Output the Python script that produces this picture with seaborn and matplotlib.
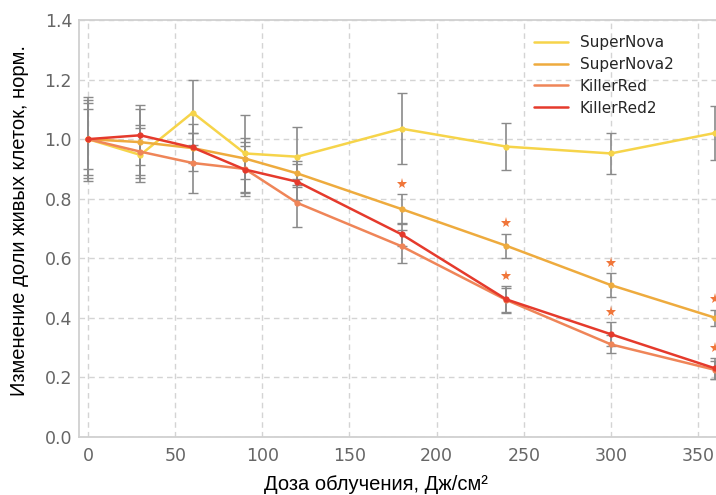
import numpy as np
import pandas as pd
import matplotlib
matplotlib.use("Agg")
import matplotlib.pyplot as plt
from matplotlib.lines import Line2D
import seaborn as sns

# Irradiation doses, J/cm^2
dose = [0, 30, 60, 90, 120, 180, 240, 300, 360]

series_names = ["SuperNova", "SuperNova2", "KillerRed", "KillerRed2"]

supernova = [1.0, 0.947, 1.089, 0.952, 0.941, 1.035, 0.975, 0.952, 1.021]
supernova2 = [1.0, 0.990, 0.970, 0.935, 0.885, 0.765, 0.642, 0.510, 0.400]
killerred = [1.0, 0.958, 0.920, 0.900, 0.786, 0.640, 0.460, 0.311, 0.225]
killerred2 = [1.0, 1.013, 0.972, 0.898, 0.857, 0.680, 0.462, 0.345, 0.230]

supernova_err = [0.10, 0.09, 0.11, 0.13, 0.10, 0.12, 0.08, 0.07, 0.09]
supernova2_err = [0.12, 0.11, 0.05, 0.07, 0.04, 0.05, 0.04, 0.04, 0.028]
killerred_err = [0.13, 0.09, 0.10, 0.09, 0.08, 0.055, 0.04, 0.03, 0.03]
killerred2_err = [0.14, 0.10, 0.08, 0.08, 0.06, 0.04, 0.045, 0.04, 0.035]

# Doses with a significant difference for each series (marked with an asterisk)
supernova2_sig = [180, 240, 300, 360]
killerred2_sig = [240, 300, 360]

colors = ["#f6d44a", "#eeab3e", "#ef8558", "#e53a2c"]

values = [supernova, supernova2, killerred, killerred2]
errors = [supernova_err, supernova2_err, killerred_err, killerred2_err]

df = pd.DataFrame({
    "dose": np.tile(dose, len(series_names)),
    "value": np.concatenate(values),
    "err": np.concatenate(errors),
    "series": np.repeat(series_names, len(dose)),
})

sns.set_theme(style="white")
plt.rcParams["font.family"] = ["DejaVu Sans"]

fig = plt.figure(figsize=(7.16, 4.95), dpi=100)
ax = fig.add_axes([79 / 716, 58 / 495, 1 - 79 / 716, (437 - 20) / 495])

# gray error bars underneath the curves
for name in series_names:
    sub = df[df["series"] == name]
    ax.errorbar(sub["dose"], sub["value"], yerr=sub["err"], fmt="none",
                ecolor="#8a8a8a", elinewidth=1.2, capsize=3.5, capthick=1.0,
                zorder=2)

sns.lineplot(data=df, x="dose", y="value", hue="series",
             hue_order=series_names, palette=colors, marker="o",
             markersize=4.5, markeredgewidth=0, linewidth=1.8,
             legend=False, ax=ax, zorder=3)

# significance asterisks above the error bars
star_color = "#f0763a"
for sig, vals, errs in [(supernova2_sig, supernova2, supernova2_err),
                        (killerred2_sig, killerred2, killerred2_err)]:
    for d in sig:
        i = dose.index(d)
        ax.plot(d, vals[i] + errs[i] + 0.035, marker="*", color=star_color,
                markersize=8, markeredgewidth=0, linestyle="none", zorder=4,
                clip_on=False)

ax.set_xlim(-5.2, 360.3)
ax.set_ylim(0, 1.4)
ax.set_xticks([0, 50, 100, 150, 200, 250, 300, 350])
ax.set_yticks([0.0, 0.2, 0.4, 0.6, 0.8, 1.0, 1.2, 1.4])
ax.set_yticklabels([f"{v:.1f}" for v in ax.get_yticks()])

ax.grid(True, color="#d4d4d4", linestyle=(0, (4, 3)), linewidth=1.0)
ax.set_axisbelow(True)
for side in ["left", "bottom", "top"]:
    ax.spines[side].set_color("#d0d0d0")
    ax.spines[side].set_linewidth(1.3)
ax.spines["right"].set_visible(False)

ax.tick_params(axis="both", length=0, labelsize=12.5, labelcolor="#666666")
ax.tick_params(axis="y", pad=5)
ax.tick_params(axis="x", pad=7)

label_font = {"family": "Liberation Sans", "size": 14.5, "color": "black"}
ax.set_xlabel("Доза облучения, Дж/см²", fontdict=label_font)
ax.xaxis.set_label_coords(0.466, -0.090)
ax.set_ylabel("Изменение доли живых клеток, норм.", fontdict=label_font)
ax.yaxis.set_label_coords(-0.078, 0.52)

handles = [Line2D([0], [0], color=c, linewidth=1.8) for c in colors]
ax.legend(handles, series_names, loc="upper right", frameon=False,
          fontsize=11, handlelength=2.2, handletextpad=0.8, labelspacing=0.45,
          bbox_to_anchor=(0.955, 0.997))

fig.savefig("out.png", dpi=100)
